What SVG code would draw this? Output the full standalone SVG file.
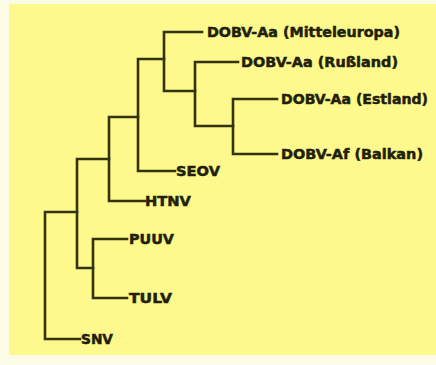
<svg xmlns="http://www.w3.org/2000/svg" width="436" height="365" viewBox="0 0 436 365">
<style>
.e{fill:none;stroke:#35330c;stroke-width:2.6;stroke-linecap:square}
text{font-family:"DejaVu Sans",sans-serif;font-weight:bold;font-size:14px;fill:#221f08;stroke:#221f08;stroke-width:0.5}
</style>
<rect width="436" height="365" fill="#fbfbe6"/>
<rect x="9" y="4" width="427" height="351" fill="#fdf98c"/>
<g id="connectors">
<path class="e" d="M164,32H202M164,32V91H195"/>
<path class="e" d="M195,62H238M195,62V126H233"/>
<path class="e" d="M233,99H277M233,99V154H277"/>
<path class="e" d="M138,59H164M138,59V171H175"/>
<path class="e" d="M109,117H138M109,117V201H145"/>
<path class="e" d="M77,159H109M77,159V268H93"/>
<path class="e" d="M93,239H127M93,239V298H127"/>
<path class="e" d="M45,212H77M45,212V339H80"/>
</g>
<g id="n-mitteleuropa"><text x="207" y="37" textLength="193" lengthAdjust="spacingAndGlyphs">DOBV-Aa (Mitteleuropa)</text></g>
<g id="n-russland"><text x="241" y="67" textLength="157" lengthAdjust="spacingAndGlyphs">DOBV-Aa (Rußland)</text></g>
<g id="n-estland"><text x="281" y="104" textLength="147" lengthAdjust="spacingAndGlyphs">DOBV-Aa (Estland)</text></g>
<g id="n-balkan"><text x="281" y="159" textLength="142" lengthAdjust="spacingAndGlyphs">DOBV-Af (Balkan)</text></g>
<g id="n-seov"><text x="176" y="176" textLength="44" lengthAdjust="spacingAndGlyphs">SEOV</text></g>
<g id="n-htnv"><text x="145" y="206" textLength="46" lengthAdjust="spacingAndGlyphs">HTNV</text></g>
<g id="n-puuv"><text x="129" y="244" textLength="45" lengthAdjust="spacingAndGlyphs">PUUV</text></g>
<g id="n-tulv"><text x="129" y="303" textLength="43" lengthAdjust="spacingAndGlyphs">TULV</text></g>
<g id="n-snv"><text x="81" y="344" textLength="32" lengthAdjust="spacingAndGlyphs">SNV</text></g>
</svg>
